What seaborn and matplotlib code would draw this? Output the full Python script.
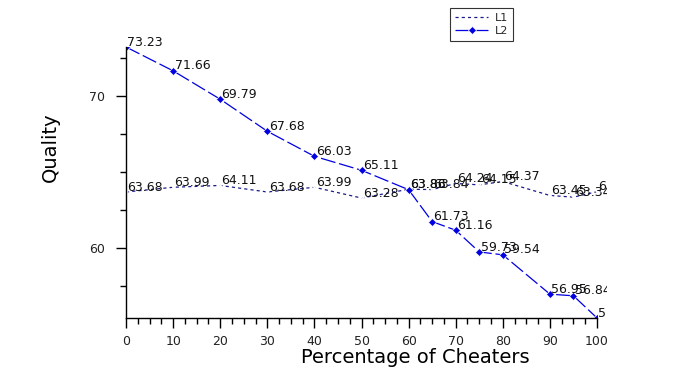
import matplotlib
matplotlib.use("Agg")
import matplotlib.pyplot as plt
import matplotlib.transforms as mtransforms
from matplotlib.ticker import MultipleLocator
import seaborn as sns
import pandas as pd

# ---- data ----
pct = [0, 10, 20, 30, 40, 50, 60, 65, 70, 75, 80, 90, 95, 100]
l1 = [63.68, 63.99, 64.11, 63.68, 63.99, 63.28, 63.86, 63.84, 64.24, 64.15, 64.37, 63.45, 63.34, 63.70]
l2 = [73.23, 71.66, 69.79, 67.68, 66.03, 65.11, 63.83, 61.73, 61.16, 59.73, 59.54, 56.95, 56.84, 55.38]
series_names = ["L1", "L2"]
x_title = "Percentage of Cheaters"
y_title = "Quality"

sns.set_theme(style="white")
plt.rcParams['font.family'] = ['DejaVu Sans']

fig = plt.figure(figsize=(6.89, 3.76), dpi=100)
ax = fig.add_axes([0.1829, 0.1543, 0.6836, 0.7207])

df = pd.DataFrame({"pct": pct, "L1": l1, "L2": l2})

c1 = "#1a1a8c"
c2 = "#0000e0"
sns.lineplot(data=df, x="pct", y="L1", ax=ax, color=c1, linewidth=0.9,
             linestyle=(0, (2.5, 2.5)), marker="x", markersize=5,
             markeredgewidth=0.9, label=series_names[0], sort=False)
sns.lineplot(data=df, x="pct", y="L2", ax=ax, color=c2, linewidth=0.9,
             linestyle=(0, (12, 3)), marker="D", markersize=4,
             markeredgewidth=0.5, label=series_names[1], sort=False)

ax.set_xlim(min(pct), max(pct))
ax.set_ylim(min(l1 + l2), max(l1 + l2))

clip = mtransforms.TransformedBbox(mtransforms.Bbox([[-0.05, -0.05], [1.022, 1.1]]), ax.transAxes)
for xs, ys in ((pct, l1), (pct, l2)):
    for xv, yv in zip(xs, ys):
        t = ax.annotate(f"{yv:.2f}", (xv, yv), xytext=(1, 1), textcoords="offset points",
                        ha="left", va="baseline", fontsize=9, color="#111111",
                        annotation_clip=False)
        t.set_clip_on(True)
        t.set_clip_box(clip)

for s in ["top", "right"]:
    ax.spines[s].set_visible(False)
for s in ["left", "bottom"]:
    ax.spines[s].set_color("black")
    ax.spines[s].set_linewidth(1.0)

ax.xaxis.set_major_locator(MultipleLocator(10))
ax.xaxis.set_minor_locator(MultipleLocator(2.5))
ax.yaxis.set_major_locator(MultipleLocator(10))
ax.yaxis.set_minor_locator(MultipleLocator(2.5))
ax.tick_params(axis="both", which="major", direction="out", length=7, width=1,
               color="black", labelsize=9, labelcolor="#222222", bottom=True, left=True)
ax.tick_params(axis="x", which="major", pad=5)
ax.tick_params(axis="y", which="major", pad=8)
ax.tick_params(axis="both", which="minor", direction="out", length=4, width=1,
               color="black", bottom=True, left=True)

ax.set_xlabel(x_title, fontsize=14, color="black")
ax.set_ylabel(y_title, fontsize=14, color="black")
ax.xaxis.set_label_coords(0.614, -0.11)
ax.yaxis.set_label_coords(-0.14, 0.63)

leg = ax.legend(loc="upper left", bbox_to_anchor=(0.653, 0.979), bbox_transform=fig.transFigure,
                fontsize=8, frameon=True, fancybox=False, edgecolor="black",
                handlelength=3.0, borderpad=0.45, labelspacing=0.25, handletextpad=0.6,
                borderaxespad=0)
leg.get_frame().set_linewidth(0.8)

fig.savefig("out.png", dpi=100, facecolor="white")
